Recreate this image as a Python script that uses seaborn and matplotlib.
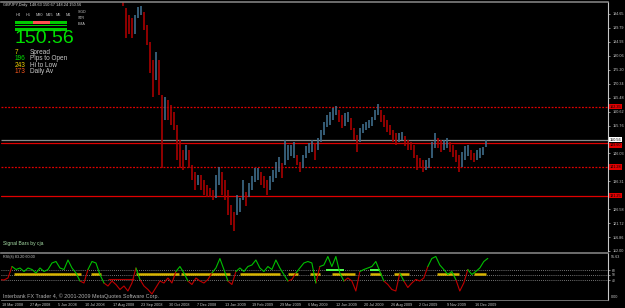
import numpy as np
import pandas as pd
import seaborn as sns
import matplotlib.pyplot as plt
from matplotlib.patches import Rectangle
from matplotlib.transforms import blended_transform_factory

sns.set_style('dark')
plt.rcParams['font.family'] = ['Liberation Sans', 'DejaVu Sans']

# ---- data ----
header = 'GBPJPY,Daily  148.63 150.67 148.24 150.56'
last_price = 150.56

# daily bars, sampled every ~3 bars from Aug 2008 to Dec 2009
bar_high = [201.0, 196.9, 194.4, 193.4, 194.4, 197.2, 197.6, 195.5, 190.9, 185.0,
            178.7, 181.5, 178.7, 166.5, 165.7, 164.7, 163.0, 160.5, 156.0, 150.7,
            147.2, 148.9, 147.2, 141.9, 139.5, 138.4, 138.4, 136.7, 134.9, 133.9,
            133.2, 138.4, 141.2, 139.5, 136.7, 133.2, 127.9, 125.5, 131.5, 130.4,
            136.7, 132.5, 135.7, 138.1, 140.9, 140.9, 139.5, 138.1, 136.7, 138.1,
            140.2, 143.0, 144.7, 142.6, 150.7, 148.9, 148.9, 150.0, 145.4, 143.0,
            145.4, 148.6, 149.6, 150.7, 149.6, 151.4, 154.2, 157.0, 159.5, 160.5,
            161.9, 162.6, 161.2, 159.5, 160.2, 160.5, 158.4, 154.9, 152.5, 154.9,
            156.3, 157.0, 157.7, 158.7, 161.2, 163.3, 161.2, 159.5, 157.7, 156.0,
            154.2, 153.2, 153.2, 153.5, 152.1, 150.7, 150.0, 148.9, 145.4, 144.4,
            143.7, 143.7, 144.4, 150.0, 153.2, 151.4, 150.7, 150.7, 151.4, 150.0,
            148.9, 147.2, 145.4, 146.5, 148.6, 148.9, 147.2, 146.1, 147.2, 147.9,
            148.3, 150.67]
bar_low = [197.6, 186.4, 187.5, 186.4, 187.5, 193.4, 194.4, 189.2, 183.9, 174.2,
           165.7, 171.7, 166.5, 140.9, 157.7, 157.7, 156.0, 154.2, 143.7, 140.9,
           140.2, 143.7, 140.9, 136.7, 133.2, 134.9, 133.2, 131.5, 130.7, 130.7,
           129.7, 130.4, 134.9, 131.5, 129.7, 124.4, 121.0, 118.9, 124.4, 125.5,
           129.7, 127.6, 130.7, 133.2, 136.0, 136.7, 134.9, 133.9, 131.5, 133.2,
           136.0, 137.4, 139.5, 137.4, 141.9, 143.7, 145.1, 144.4, 141.9, 139.5,
           140.9, 144.4, 146.1, 146.5, 143.7, 147.2, 150.0, 152.5, 155.3, 156.0,
           157.7, 159.5, 157.0, 154.9, 155.6, 157.0, 154.2, 150.7, 146.5, 150.0,
           153.2, 154.2, 154.9, 155.6, 157.7, 159.5, 157.0, 155.3, 153.5, 152.5,
           150.0, 148.9, 150.0, 150.7, 148.6, 147.2, 147.2, 144.4, 140.2, 140.9,
           139.5, 140.2, 140.9, 144.4, 147.9, 147.9, 146.5, 147.2, 147.9, 146.5,
           144.7, 143.0, 139.5, 141.2, 143.7, 145.1, 143.7, 143.0, 143.7, 144.4,
           145.4, 148.24]

dashed_levels = [162.35, 141.28]
solid_levels = [149.60, 131.25]

price_ticks = [194.65, 189.79, 184.93, 180.06, 175.20, 170.34, 165.48, 160.62, 155.76,
               146.03, 136.31, 126.58, 121.72, 116.86, 112.00]

# RSI(8), sampled every ~4 bars over the whole window
rsi_values = [41, 40, 44, 67, 61, 64, 57, 64, 61, 54, 64, 57, 61, 74, 77, 64, 61, 80,
              64, 54, 38, 34, 61, 77, 74, 51, 34, 28, 38, 31, 21, 28, 18, 34, 64, 41,
              28, 21, 12, 25, 38, 34, 44, 34, 57, 67, 54, 38, 31, 44, 38, 34, 41, 54,
              64, 83, 61, 38, 31, 57, 64, 57, 67, 70, 80, 64, 57, 67, 61, 80, 64, 51,
              38, 41, 54, 64, 74, 77, 74, 34, 67, 70, 87, 67, 87, 54, 38, 44, 38, 18,
              57, 61, 64, 67, 77, 57, 38, 31, 21, 18, 54, 38, 25, 34, 41, 38, 44, 67,
              83, 87, 70, 61, 51, 57, 41, 18, 34, 61, 51, 57, 64, 77, 83.2]
rsi_levels = [60, 50, 40]
yellow_spans = [(12, 80), (90, 100), (135, 178), (180, 230), (240, 280), (288, 298),
                (310, 320), (332, 355), (370, 382), (395, 410), (438, 460), (475, 487)]
bright_spans = [(326, 344), (370, 380)]

date_labels = ['18 Mar 2008', '27 Apr 2008', '5 Jun 2008', '10 Jul 2008', '17 Aug 2008',
               '23 Sep 2008', '30 Oct 2008', '7 Dec 2008', '13 Jan 2009', '19 Feb 2009',
               '29 Mar 2009', '6 May 2009', '12 Jun 2009', '20 Jul 2009', '26 Aug 2009',
               '2 Oct 2009', '9 Nov 2009', '16 Dec 2009']

timeframes = ['H4', 'H1', 'M30', 'M15', 'M5', 'M1']
info_values = ['7', '196', '243', '173']
info_labels = ['Spread', 'Pips to Open', 'Hi to Low', 'Daily Av']
info_colors = ['#f0d000', '#00e000', '#f0d000', '#ff5a1e']

# ---- figure ----
W, H = 625, 308
fig = plt.figure(figsize=(W / 100, H / 100), dpi=100, facecolor='black')


def fx(x):
    return x / W


def fy(y):
    return 1 - y / H


ax = fig.add_axes([fx(1), fy(251), fx(607), 249 / H])
ax2 = fig.add_axes([fx(1), fy(300), fx(607), 47 / H])

for a in (ax, ax2):
    a.set_facecolor('black')
    a.set_xlim(-1, 610)
    a.grid(False)
    for s in a.spines.values():
        s.set_visible(False)
    a.spines['right'].set_visible(True)
    a.spines['right'].set_color('#c8c8c8')
    a.spines['right'].set_linewidth(0.8)
    a.spines['top'].set_visible(True)
    a.spines['top'].set_color('#808080')
    a.spines['top'].set_linewidth(1.2)
    a.yaxis.tick_right()
    a.tick_params(axis='y', colors='#c8c8c8', labelsize=2.7, length=1.5, width=0.5, pad=1.5)

# price bars
bars = pd.DataFrame({'high': bar_high, 'low': bar_low})
bars['bar'] = np.linspace(122, 487, len(bars))
mid = (bars['high'] + bars['low']) / 2
bars['color'] = np.where(mid.diff().fillna(-1) >= 0, '#41708f', '#b00000')

ax.hlines(last_price, -1, 610, color='#8a8a8a', lw=0.9, zorder=1)
for lv in solid_levels:
    ax.axhline(lv, color='#e00000', lw=0.9, zorder=1)
for lv in dashed_levels:
    ax.axhline(lv, color='#e00000', lw=0.9, ls=(0, (1.5, 1.2)), zorder=1)
ax.vlines(bars['bar'], bars['low'], bars['high'], colors=bars['color'], lw=1.15, zorder=2)

ax.set_ylim(112.05, 198.83)
ax.set_yticks(price_ticks)
ax.set_yticklabels([f'{v:.2f}' for v in price_ticks])
ax.set_xticks([])

tr = blended_transform_factory(ax.transAxes, ax.transData)
box_kw = dict(boxstyle='square,pad=0.15', ec='none')
for lv in dashed_levels + solid_levels:
    va = 'top' if abs(lv - last_price) < 2 else 'center'
    ax.text(1.003, lv, f'{lv:.2f}', transform=tr, fontsize=2.7, color='black', va=va,
            ha='left', clip_on=False, zorder=5, bbox=dict(fc='#e00000', **box_kw))
ax.text(1.003, last_price + 0.3, f'{last_price:.2f}', transform=tr, fontsize=2.7,
        color='black', va='center', ha='left', clip_on=False, zorder=6,
        bbox=dict(fc='white', **box_kw))

# RSI pane
rsi = pd.DataFrame({'bar': np.linspace(-2, 489, len(rsi_values)), 'rsi': rsi_values})
rsi['side'] = np.where(rsi['rsi'] >= 50, 'up', 'down')
rsi['run'] = (rsi['side'] != rsi['side'].shift()).cumsum()
pieces = []
for run, grp in rsi.groupby('run'):
    nxt = rsi.loc[grp.index.max() + 1:grp.index.max() + 1]
    piece = pd.concat([grp, nxt]).assign(run=run, side=grp['side'].iloc[0])
    pieces.append(piece)
rsi_long = pd.concat(pieces, ignore_index=True)

for lv in rsi_levels:
    ax2.axhline(lv, color='#9a9a9a', lw=0.6, ls=(0, (1, 1.5)), zorder=1)
for a0, a1 in yellow_spans:
    ax2.hlines(51.5, a0, a1, color='#d8b400', lw=1.8, zorder=2)
for a0, a1 in bright_spans:
    ax2.hlines(61, a0, a1, color='#50ff50', lw=1.4, zorder=2)
ax2.hlines(42, 107, 133, color='#b00000', lw=0.8, zorder=2)

sns.lineplot(data=rsi_long, x='bar', y='rsi', hue='side', units='run', estimator=None,
             sort=False, palette={'up': '#00c000', 'down': '#c00000'}, lw=0.8,
             legend=False, ax=ax2, zorder=3)
ax2.set_ylim(0, 94)
ax2.set_yticks(rsi_levels)
ax2.set_yticklabels([str(v) for v in rsi_levels])
ax2.tick_params(axis='y', labelsize=2.4)
ax2.set_xticks([28 * k for k in range(len(date_labels))])
ax2.set_xticklabels(date_labels, ha='left')
ax2.tick_params(axis='x', colors='#c8c8c8', labelsize=2.7, length=1.5, width=0.5, pad=1)
ax2.set_xlabel('')
ax2.set_ylabel('')
ax2.spines['bottom'].set_visible(True)
ax2.spines['bottom'].set_color('#808080')
ax2.spines['bottom'].set_linewidth(0.6)
fig.text(fx(611), fy(257), '95.63', fontsize=2.7, color='#c8c8c8', va='center')
fig.text(fx(611), fy(297), '0.00', fontsize=2.7, color='#c8c8c8', va='center')

# overlay texts
fig.text(fx(3), fy(5), header, fontsize=2.8, color='#d8d8d8', va='center')
for i, tf in enumerate(timeframes):
    fig.text(fx(16 + 10 * i), fy(15), tf, fontsize=2.8, color='#c8c8c8', va='center')
for i, t in enumerate(['SIGD', 'STR', 'EMA']):
    fig.text(fx(78), fy(12 + 6 * i), t, fontsize=2.6, color='#c8c8c8', va='center')
for x0, y0, w, h, c in [(15, 20.5, 52, 3.5, '#00c800'), (33, 20.5, 17, 3.5, '#ff5050'),
                        (15, 25.2, 52, 1.2, '#00c800'), (15, 28, 52, 2.5, '#00c800')]:
    fig.add_artist(Rectangle((fx(x0), fy(y0 + h)), fx(w), h / H, color=c, lw=0))
fig.text(fx(14), fy(38.5), f'{last_price:.2f}', fontsize=14, color='#00e000', va='center')
for i, (v, lab, c) in enumerate(zip(info_values, info_labels, info_colors)):
    yy = 52 + 6.6 * i
    fig.text(fx(15), fy(yy), v, fontsize=4.7, color=c, va='center')
    fig.text(fx(30), fy(yy), lab, fontsize=4.7, color='#c8c8c8', va='center')

fig.text(fx(3), fy(243), 'Signal Bars by cja', fontsize=3.6, color='#a8e0a8', va='center')
fig.text(fx(3), fy(257), 'RSI(8) 83.20 60.00', fontsize=2.7, color='#c8c8c8', va='center')
fig.text(fx(3), fy(296), 'Interbank FX Trader 4, \u00a9 2001-2009 MetaQuotes Software Corp.',
         fontsize=3.9, color='#b0b0b0', va='center')

fig.savefig('out.png', dpi=100, facecolor='black')
